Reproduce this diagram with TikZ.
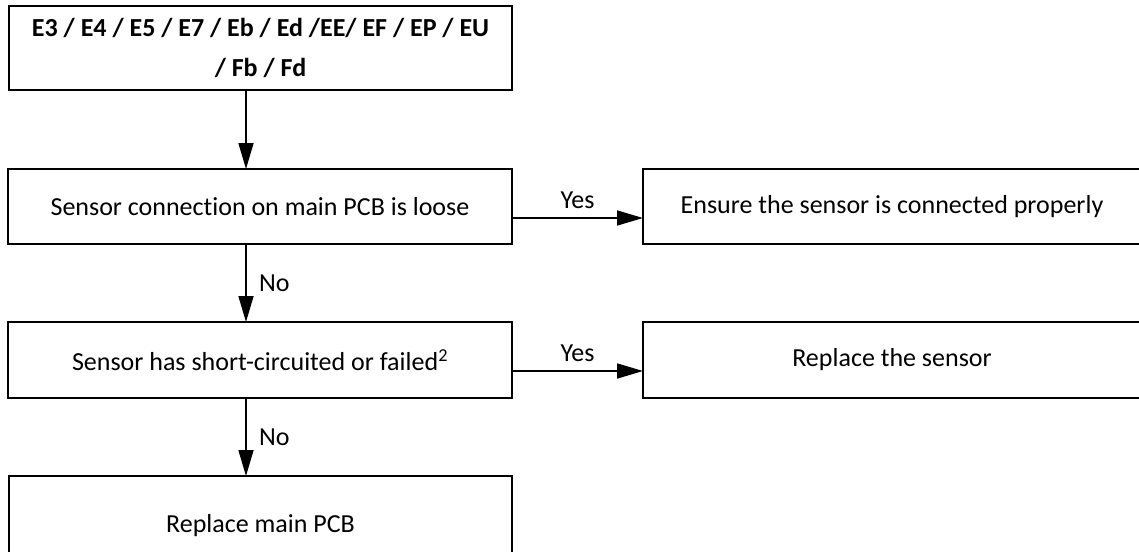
\documentclass[tikz,border=0pt]{standalone}
\usepackage{fontspec}
\setmainfont[Ligatures=NoCommon]{Carlito}
\usetikzlibrary{arrows.meta}

\begin{document}
\begin{tikzpicture}[
    x=1pt, y=-1pt,
    every node/.style={inner sep=0pt, outer sep=0pt},
    box/.style={draw, line width=1.6pt, minimum width=#1, align=center,
                font=\fontsize{26}{40}\selectfont},
    box/.default=504pt,
    flow/.style={line width=1.6pt, -{Triangle[length=26pt, width=15pt]}},
    lbl/.style={font=\fontsize{26}{30}\selectfont}
  ]
  \useasboundingbox (0,0) rectangle (1139,551);
  \clip (0,0) rectangle (1139,551);

  % decision and action boxes
  \node[box=503pt, minimum height=84pt] (start) at (260.5,48)
    {\bfseries E3 / E4 / E5 / E7 / Eb / Ed /EE/ EF / EP / EU\\\bfseries / Fb / Fd};
  \node[box, minimum height=75pt] (loose) at (260,206.5)
    {Sensor connection on main PCB is loose};
  \node[box=498pt, minimum height=75pt] (ensure) at (892,206.5)
    {Ensure the sensor is connected properly};
  \node[box, minimum height=76pt] (short) at (260,360)
    {Sensor has short-circuited or failed\textsuperscript{2}};
  \node[box=498pt, minimum height=76pt] (sensor) at (892,360)
    {Replace the sensor};
  \node[box=503pt, minimum height=100pt] (pcb) at (260.5,526)
    {Replace main PCB};

  % connector guide lines
  \coordinate (col) at (246,0);
  \coordinate (row1) at (0,218);
  \coordinate (row2) at (0,371);

  % connectors
  \draw[flow] (start.south -| col) -- (loose.north -| col);
  \draw[flow] (loose.south -| col) -- node[lbl, right=13pt] (no1) {No} (short.north -| col);
  \draw[flow] (short.south -| col) -- node[lbl, right=13pt] (no2) {No} (pcb.north -| col);
  \draw[flow] (loose.east |- row1) -- node[lbl, above=9pt] (yes1) {Yes} (ensure.west |- row1);
  \draw[flow] (short.east |- row2) -- node[lbl, above=9pt] (yes2) {Yes} (sensor.west |- row2);
\end{tikzpicture}
\end{document}
